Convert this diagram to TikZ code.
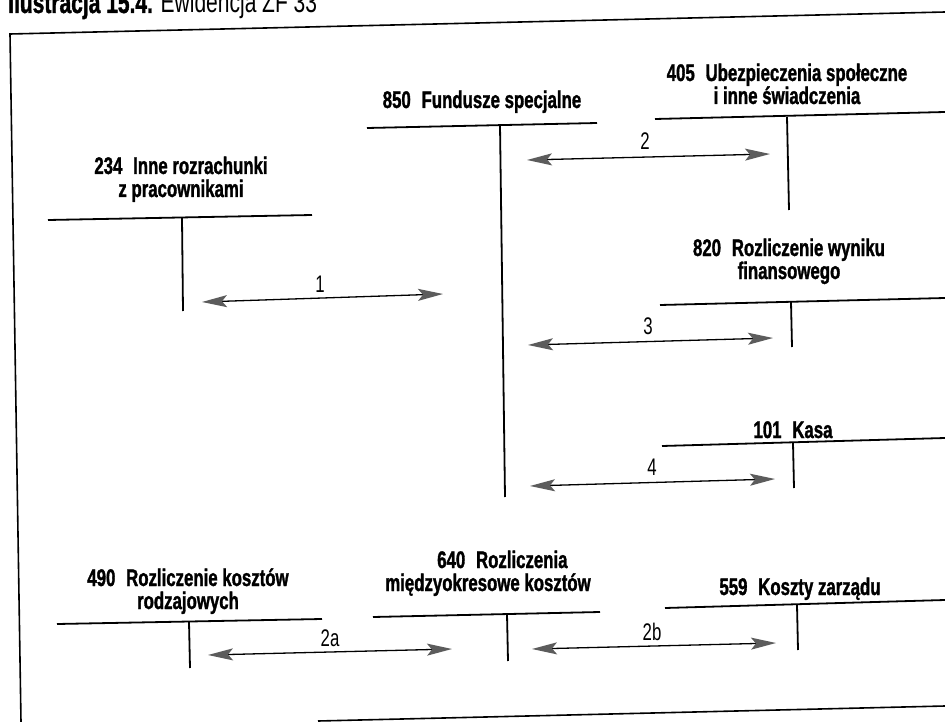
\documentclass[tikz,border=0pt]{standalone}
\usepackage{fontspec}
\setmainfont{Liberation Sans}[FakeStretch=0.7, BoldFeatures={FakeBold=1.3}]
\usetikzlibrary{arrows.meta}
\definecolor{tipgray}{gray}{0.36}
\newcommand{\acnr}[1]{#1\hspace{0.45em}}
\tikzset{
  acc/.style={line width=1.8pt},
  frameline/.style={line width=1.6pt},
  ttl/.style={font=\fontsize{24}{23}\selectfont\bfseries, align=center, anchor=base,
    inner sep=0pt},
  lbl/.style={font=\fontsize{24}{26}\selectfont, anchor=base, inner sep=0pt},
  flow/.style={line width=1.3pt,
    {Stealth[length=25pt,width=12pt,inset=5pt,color=tipgray]}-{Stealth[length=25pt,width=12pt,inset=5pt,color=tipgray]}}
}
\begin{document}
\begin{tikzpicture}[x=1pt,y=-1pt]
\useasboundingbox (0,0) rectangle (945,722);
\clip (0,0) rectangle (945,722);
\fill[white] (0,0) rectangle (945,722);

% caption
\node[font=\fontsize{30}{32}\selectfont, anchor=base west, inner sep=0pt] (cap) at (8,13)
  {\textbf{Ilustracja 15.4.} Ewidencja ZF 33};

% frame
\coordinate (fTL) at (10,34);
\coordinate (fTR) at (945,12);
\coordinate (fBL) at (21,722);
\coordinate (fB1) at (318,721);
\coordinate (fB2) at (945,706);
\draw[frameline] (fTR) -- (fTL) -- (fBL);
\draw[frameline] (fB1) -- (fB2);

% 234
\node[ttl] (t234) at (181,197) {\acnr{234}Inne rozrachunki\\z pracownikami};
\coordinate (k234L) at (48,220);
\coordinate (k234R) at (312,215);
\coordinate (k234T) at (182,218);
\coordinate (k234B) at (183,311);
\draw[acc] (k234L) -- (k234R);
\draw[acc] (k234T) -- (k234B);

% 850
\node[ttl] (t850) at (482,108) {\acnr{850}Fundusze specjalne};
\coordinate (k850L) at (367,128);
\coordinate (k850R) at (597,123);
\coordinate (k850T) at (500,125);
\coordinate (k850B) at (505,497);
\draw[acc] (k850L) -- (k850R);
\draw[acc] (k850T) -- (k850B);

% 405
\node[ttl] (t405) at (787,104) {\acnr{405}Ubezpieczenia społeczne\\i inne świadczenia};
\coordinate (k405L) at (655,119);
\coordinate (k405R) at (945,112);
\coordinate (k405T) at (787,117);
\coordinate (k405B) at (789,210);
\draw[acc] (k405L) -- (k405R);
\draw[acc] (k405T) -- (k405B);

% 820
\node[ttl] (t820) at (789,279) {\acnr{820}Rozliczenie wyniku\\finansowego};
\coordinate (k820L) at (660,305);
\coordinate (k820R) at (945,298);
\coordinate (k820T) at (791,302);
\coordinate (k820B) at (792,347);
\draw[acc] (k820L) -- (k820R);
\draw[acc] (k820T) -- (k820B);

% 101
\node[ttl] (t101) at (793,438) {\acnr{101}Kasa};
\coordinate (k101L) at (662,446);
\coordinate (k101R) at (945,438);
\coordinate (k101T) at (793,443);
\coordinate (k101B) at (794,488);
\draw[acc] (k101L) -- (k101R);
\draw[acc] (k101T) -- (k101B);

% 490
\node[ttl] (t490) at (188,609) {\acnr{490}Rozliczenie kosztów\\rodzajowych};
\coordinate (k490L) at (57,624);
\coordinate (k490R) at (322,619);
\coordinate (k490T) at (189,622);
\coordinate (k490B) at (190,668);
\draw[acc] (k490L) -- (k490R);
\draw[acc] (k490T) -- (k490B);

% 640
\node[ttl] (t640) at (488,591) {\hspace*{1.2em}\acnr{640}Rozliczenia\\międzyokresowe kosztów};
\coordinate (k640L) at (373,617);
\coordinate (k640R) at (600,612);
\coordinate (k640T) at (507,614);
\coordinate (k640B) at (508,661);
\draw[acc] (k640L) -- (k640R);
\draw[acc] (k640T) -- (k640B);

% 559
\node[ttl] (t559) at (800,595) {\acnr{559}Koszty zarządu};
\coordinate (k559L) at (665,608);
\coordinate (k559R) at (945,600);
\coordinate (k559T) at (797,605);
\coordinate (k559B) at (798,650);
\draw[acc] (k559L) -- (k559R);
\draw[acc] (k559T) -- (k559B);

% postings
\coordinate (p1a) at (202,302); \coordinate (p1b) at (443,294);
\coordinate (p2a) at (527,160); \coordinate (p2b) at (770,154);
\coordinate (p3a) at (528,345); \coordinate (p3b) at (773,338);
\coordinate (p4a) at (530,486); \coordinate (p4b) at (775,479);
\coordinate (p5a) at (208,655); \coordinate (p5b) at (452,649);
\coordinate (p6a) at (532,649); \coordinate (p6b) at (776,643);
\draw[flow] (p1a) -- (p1b);
\draw[flow] (p2a) -- (p2b);
\draw[flow] (p3a) -- (p3b);
\draw[flow] (p4a) -- (p4b);
\draw[flow] (p5a) -- (p5b);
\draw[flow] (p6a) -- (p6b);
\node[lbl] (n1) at (320,292) {1};
\node[lbl] (n2) at (645,150) {2};
\node[lbl] (n3) at (648,334) {3};
\node[lbl] (n4) at (652,475) {4};
\node[lbl] (n2a) at (330,646) {2a};
\node[lbl] (n2b) at (652,640) {2b};
\end{tikzpicture}
\end{document}
